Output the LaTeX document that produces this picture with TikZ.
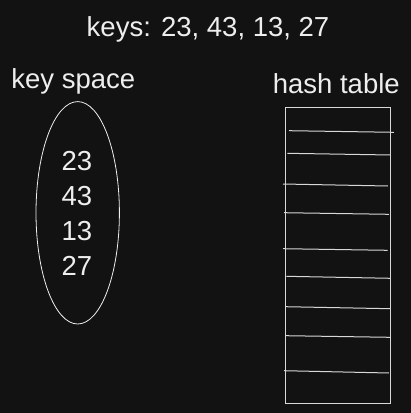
\documentclass[tikz,border=0pt]{standalone}
\usepackage{fontspec}
\setmainfont{Liberation Sans}
\definecolor{bg}{HTML}{121212}
\definecolor{ink}{HTML}{EEEEEE}
\definecolor{rule}{HTML}{D8D8D8}
\begin{document}
\begin{tikzpicture}[x=1pt,y=-1pt,
  lbl/.style={text=ink,font=\fontsize{27.5}{30}\selectfont,anchor=base,inner sep=0pt},
  slot/.style={draw=rule,line width=1pt},
  frame/.style={draw=rule,line width=1.4pt}]
\fill[bg] (0,0) rectangle (411,413);
\useasboundingbox (0,0) rectangle (411,413);
\node[lbl] (keys) at (208,36) {keys: 23, 43, 13, 27};
\node[lbl] (ks) at (73.3,88.3) {key space};
\node[lbl] (ht) at (336.3,93.3) {hash table};
\draw[draw=ink,line width=0.8pt] (77.7,212.8) ellipse [x radius=41.7, y radius=111.2];
\node[lbl] (k1) at (77,170) {23};
\node[lbl] (k2) at (77,205) {43};
\node[lbl] (k3) at (77,240) {13};
\node[lbl] (k4) at (77,275) {27};
\draw[frame] (285.7,107.7) rectangle (390.7,403.3);
\draw[slot] (289,130.7) -- (394,132.3);
\draw[slot] (287.3,153.3) -- (390.7,155);
\draw[slot] (283,184) -- (388,186);
\draw[slot] (284,212.7) -- (389,214.3);
\draw[slot] (283,248.7) -- (387.7,250.3);
\draw[slot] (286.3,276.3) -- (390.7,278.3);
\draw[slot] (285.3,306.7) -- (390,308.7);
\draw[slot] (286,335.7) -- (390,337.3);
\draw[slot] (284,370.7) -- (389,373);
\end{tikzpicture}
\end{document}
